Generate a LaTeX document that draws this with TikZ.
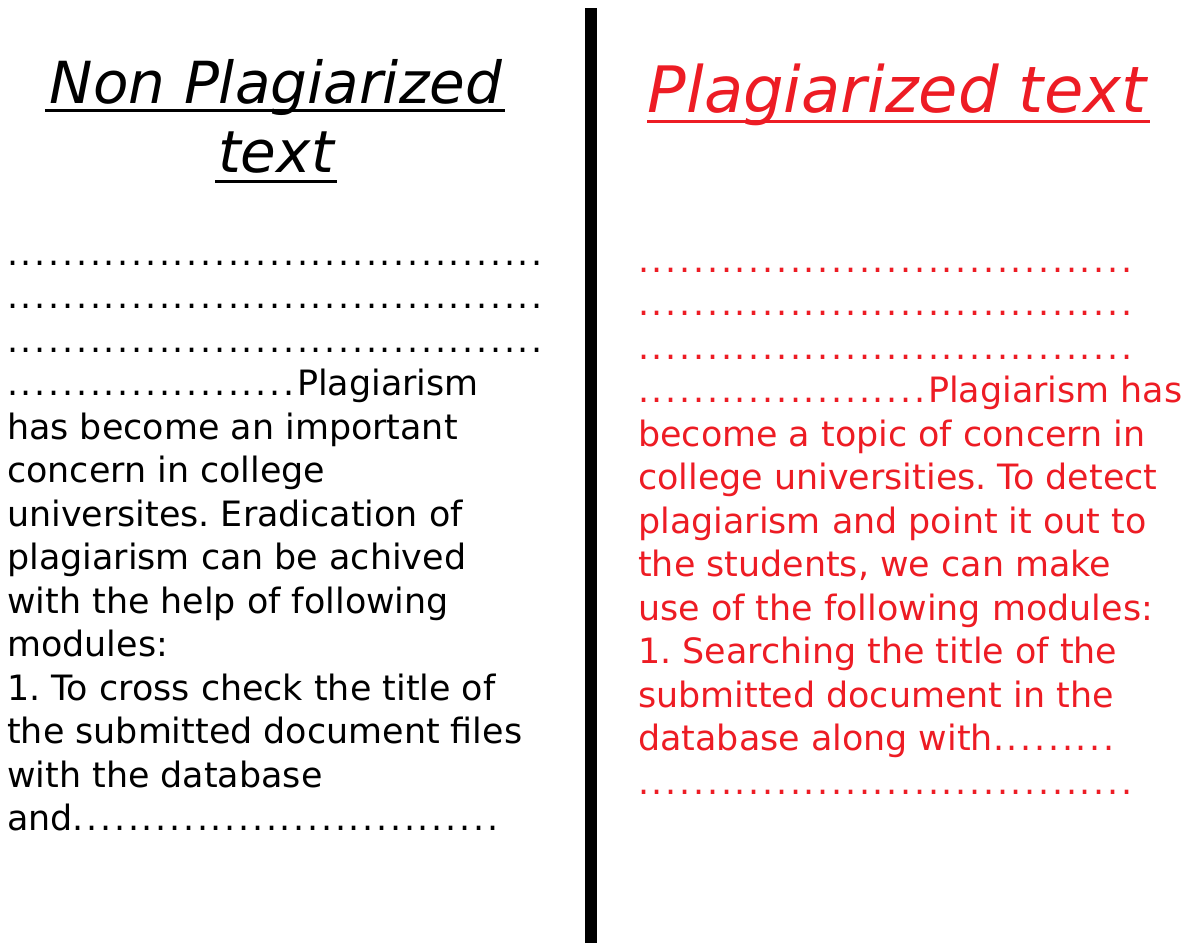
\documentclass[tikz,border=0pt]{standalone}
\usepackage{fontspec}
\setmainfont{DejaVu Sans}
\frenchspacing
\definecolor{plagred}{RGB}{237,28,36}
% a row of spaced dots
\newcommand{\dts}[1]{\foreach \i in {1,...,#1}{\makebox[13.8pt][l]{.}}}

\begin{document}
\begin{tikzpicture}[x=1pt, y=-1pt,
    title/.style={inner sep=0pt, anchor=base, font=\fontsize{58}{67}\selectfont\itshape},
    body/.style={inner sep=0pt, anchor=north west, align=left, font=\fontsize{34.9}{43.5}\selectfont},
    uline/.style={line width=3pt}]

    % Frame
    \useasboundingbox (0,0) rectangle (1190,943);

    % Divider
    \draw[line width=12pt] (591,8) -- (591,943);

    % Titles
    \node[title] (nonplag) at (276,103) {Non Plagiarized};
    \node[title] (nonplagb) at (276,172) {text};
    \node[title, plagred, font=\fontsize{64}{72}\selectfont\itshape] (plag) at (897,112) {Plagiarized text};

    % Underlines
    \draw[uline] ([xshift=-5pt, yshift=-7pt]nonplag.base west) -- ([xshift=3pt, yshift=-7pt]nonplag.base east);
    \draw[uline] ([xshift=-3pt, yshift=-9pt]nonplagb.base west) -- ([xshift=3pt, yshift=-9pt]nonplagb.base east);
    \draw[uline, plagred] ([yshift=-9pt]plag.base west) -- ([xshift=3pt, yshift=-9pt]plag.base east);

    % Texts
    \node[body] (lefttext) at (7,234.5) {\strut\dts{39}\\
        \dts{39}\\
        \dts{39}\\
        \dts{21}Plagiarism\\
        has become an important\\
        concern in college\\
        universites. Eradication of\\
        plagiarism can be achived\\
        with the help of following\\
        modules:\\
        1. To cross check the title of\\
        the submitted document files\\
        with the database\\
        and\dts{31}};
    \node[body, plagred] (righttext) at (638,241.5) {\strut\dts{36}\\
        \dts{36}\\
        \dts{36}\\
        \dts{21}Plagiarism has\\
        become a topic of concern in\\
        college universities. To detect\\
        plagiarism and point it out to\\
        the students, we can make\\
        use of the following modules:\\
        1. Searching the title of the\\
        submitted document in the\\
        database along with\dts{9}\\
        \dts{36}};
\end{tikzpicture}
\end{document}
